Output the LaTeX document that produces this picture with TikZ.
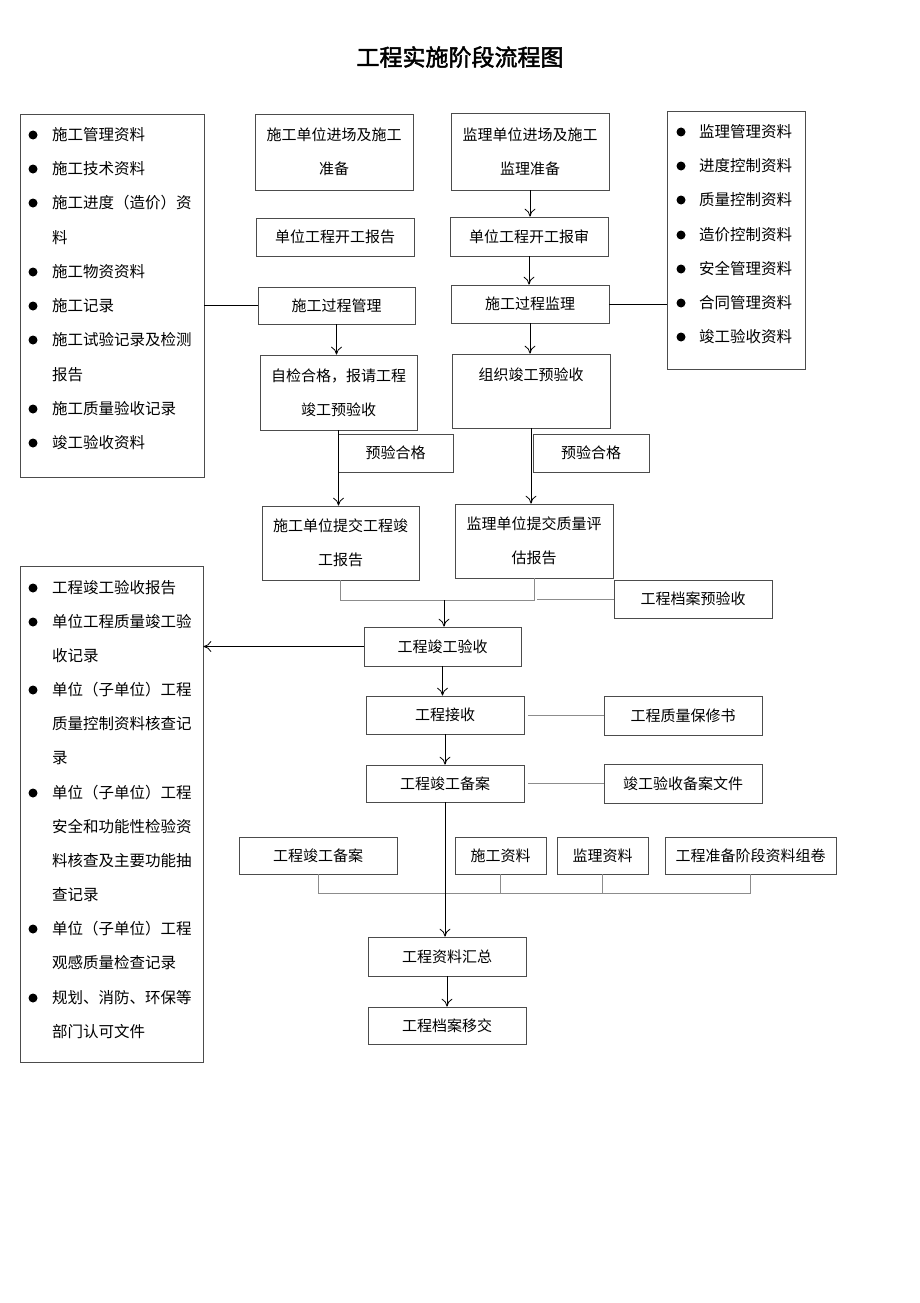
\documentclass[tikz,border=0pt]{standalone}
\usepackage{fontspec}
\newfontfamily\cjk{Noto Sans CJK SC}
\newfontfamily\cjkbold[FakeBold=2]{Noto Sans CJK SC}
\usetikzlibrary{arrows.meta}
\begin{document}
\begin{tikzpicture}[x=1pt,y=-1pt,>={To[length=8pt,width=11pt]},
  box/.style={draw=black!70,line width=0.7pt,inner sep=0pt,align=center,
    font=\cjk\fontsize{15}{34}\selectfont},
  item/.style={anchor=west,inner sep=0pt,font=\cjk\fontsize{15.5}{18}\selectfont},
  gline/.style={draw=black!45,line width=0.9pt},
  arr/.style={->,line width=0.8pt}]
\useasboundingbox (0,0) rectangle (920,1303);

\node[font=\cjkbold\fontsize{23}{26}\selectfont] (title) at (460,57) {工程实施阶段流程图};

% left column
\node[box,minimum width=158pt,minimum height=76pt] (B1) at (334,152) {施工单位进场及施工\\准备};
\node[box,minimum width=158pt,minimum height=38pt] (B2) at (335,237) {单位工程开工报告};
\node[box,minimum width=157pt,minimum height=37pt] (B3) at (336.5,305.5) {施工过程管理};
\node[box,minimum width=157pt,minimum height=75pt] (B4) at (338.5,392.5) {自检合格，报请工程\\竣工预验收};
\node[box,minimum width=115pt,minimum height=38pt] (P1) at (395.5,453) {预验合格};
\node[box,minimum width=157pt,minimum height=74pt] (B5) at (340.5,543) {施工单位提交工程竣\\工报告};

% right column
\node[box,minimum width=158pt,minimum height=77pt] (C1) at (530,151.5) {监理单位进场及施工\\监理准备};
\node[box,minimum width=158pt,minimum height=39pt] (C2) at (529,236.5) {单位工程开工报审};
\node[box,minimum width=158pt,minimum height=38pt] (C3) at (530,304) {施工过程监理};
\node[box,minimum width=158pt,minimum height=74pt] (C4) at (531,391) {组织竣工预验收\\~};
\node[box,minimum width=116pt,minimum height=38pt] (P2) at (591,453) {预验合格};
\node[box,minimum width=158pt,minimum height=74pt] (C5) at (534,541) {监理单位提交质量评\\估报告};

% middle chain
\node[box,minimum width=158pt,minimum height=38pt] (F1) at (693,599) {工程档案预验收};
\node[box,minimum width=157pt,minimum height=39pt] (E1) at (442.5,646.5) {工程竣工验收};
\node[box,minimum width=158pt,minimum height=38pt] (E2) at (445,715) {工程接收};
\node[box,minimum width=158pt,minimum height=39pt] (F2) at (683,715.5) {工程质量保修书};
\node[box,minimum width=158pt,minimum height=37pt] (E3) at (445,783.5) {工程竣工备案};
\node[box,minimum width=158pt,minimum height=39pt] (F3) at (683,783.5) {竣工验收备案文件};
\node[box,minimum width=158pt,minimum height=37pt] (H1) at (318,855.5) {工程竣工备案};
\node[box,minimum width=91pt,minimum height=37pt] (H2) at (500.5,855.5) {施工资料};
\node[box,minimum width=91pt,minimum height=37pt] (H3) at (602.5,855.5) {监理资料};
\node[box,minimum width=171pt,minimum height=37pt] (H4) at (750.5,855.5) {工程准备阶段资料组卷};
\node[box,minimum width=158pt,minimum height=39pt] (E4) at (447,956.5) {工程资料汇总};
\node[box,minimum width=158pt,minimum height=37pt] (E5) at (447,1025.5) {工程档案移交};

% list boxes
\node[box,minimum width=184pt,minimum height=363pt] (A) at (112,295.5) {};
\foreach \y/\t/\b in {135/施工管理资料/1,169/施工技术资料/1,203/施工进度（造价）资/1,
    238/料/0,272/施工物资资料/1,306/施工记录/1,340/施工试验记录及检测/1,
    375/报告/0,409/施工质量验收记录/1,443/竣工验收资料/1}{
  \ifnum\b=1 \fill (33,\y) circle (4.5); \fi
  \node[item] (a\y) at (52,\y) {\t};
}
\node[box,minimum width=138pt,minimum height=258pt] (D) at (736,240) {};
\foreach \y/\t in {132/监理管理资料,166/进度控制资料,200/质量控制资料,235/造价控制资料,
    269/安全管理资料,303/合同管理资料,337/竣工验收资料}{
  \fill (681,\y) circle (4.5);
  \node[item] (d\y) at (699,\y) {\t};
}
\node[box,minimum width=183pt,minimum height=496pt] (G) at (111.5,814) {};
\foreach \y/\t/\b in {588/工程竣工验收报告/1,622/单位工程质量竣工验/1,656/收记录/0,
    690/单位（子单位）工程/1,724/质量控制资料核查记/0,758/录/0,
    793/单位（子单位）工程/1,827/安全和功能性检验资/0,861/料核查及主要功能抽/0,
    895/查记录/0,929/单位（子单位）工程/1,963/观感质量检查记录/0,
    998/规划、消防、环保等/1,1032/部门认可文件/0}{
  \ifnum\b=1 \fill (33,\y) circle (4.5); \fi
  \node[item] (g\y) at (52,\y) {\t};
}

% connectors
\draw[line width=0.8pt] (A.east |- B3) -- (B3.west);
\draw[line width=0.8pt] (C3.east) -- (D.west |- C3);
\draw[arr] (B3.south) -- (B3.south |- B4.north);
\draw[arr] (B4.south) -- (B4.south |- B5.north);
\draw[arr] (C1.south) -- (C1.south |- C2.north);
\draw[arr] (C2.south) -- (C2.south |- C3.north);
\draw[arr] (C3.south) -- (C3.south |- C4.north);
\draw[arr] (C4.south) -- (C4.south |- C5.north);

\coordinate (m) at (444,600);
\draw[gline] (B5.south) -- (B5.south |- m) -- (C5.south |- m) -- (C5.south);
\draw[gline] ([xshift=3pt]C5.south |- F1.west) -- (F1.west);
\draw[arr] (m) -- (m |- E1.north);
\draw[arr] (E1.west) -- (G.east |- E1.west);
\draw[arr] (E1.south) -- (E1.south |- E2.north);
\draw[arr] (E2.south) -- (E2.south |- E3.north);
\draw[gline,shorten <=4pt] (E2.east) -- (F2.west |- E2.east);
\draw[gline,shorten <=4pt] (E3.east) -- (F3.west |- E3.east);

\coordinate (bus) at (444,893);
\draw[gline] (H1.south) |- (bus) -| (H4.south);
\draw[gline] (H2.south) -- (H2.south |- bus);
\draw[gline] (H3.south) -- (H3.south |- bus);
\draw[arr] (E3.south) -- (E3.south |- E4.north);
\draw[arr] (E4.south) -- (E4.south |- E5.north);
\end{tikzpicture}
\end{document}
